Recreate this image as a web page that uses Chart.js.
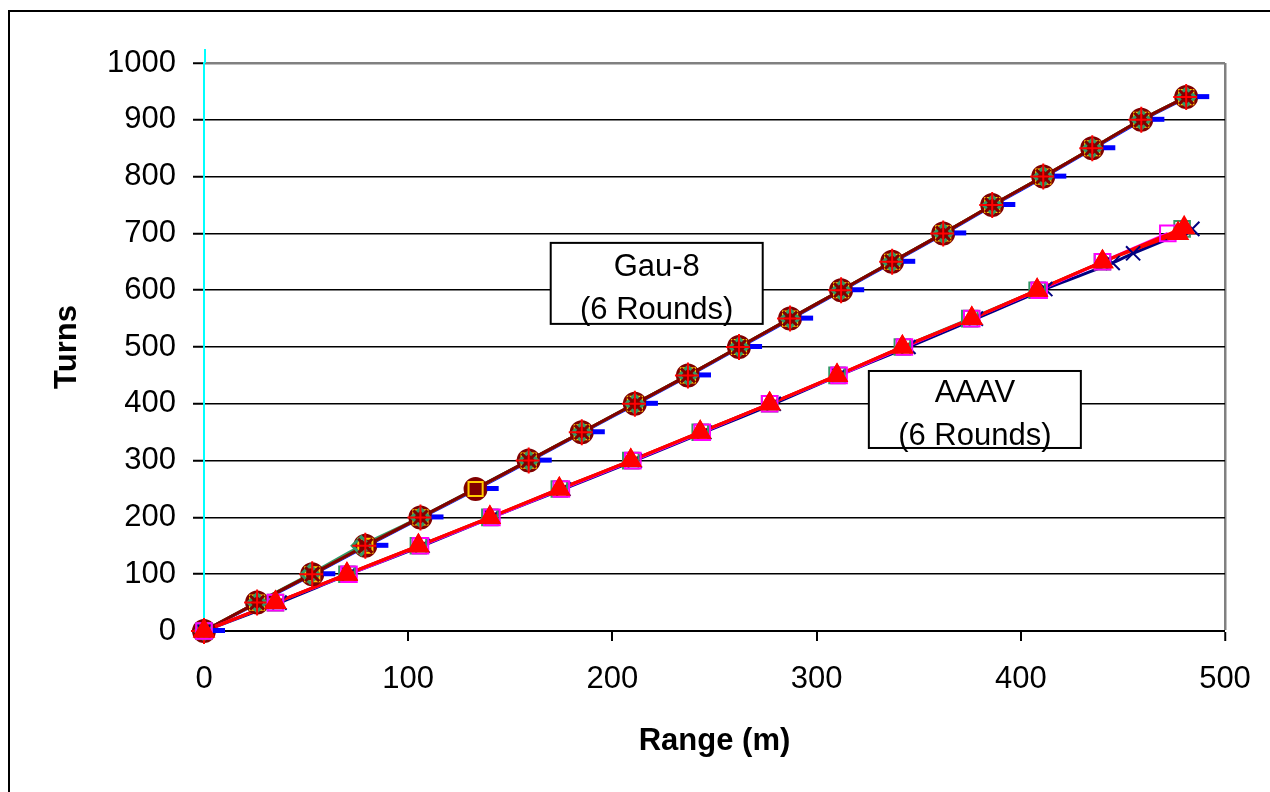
<!DOCTYPE html>
<html>
<head>
<meta charset="utf-8">
<script src="https://cdn.jsdelivr.net/npm/chart.js@4.4.0/dist/chart.umd.min.js"></script>
<style>
  body { margin: 0; background: #fff; }
  #frame { position: absolute; left: 8px; top: 10px; width: 1300px; height: 800px;
           border-left: 2px solid #000; border-top: 2px solid #000; }
  #chart { position: absolute; left: 0; top: 0; }
</style>
</head>
<body>
<div id="frame"></div>
<canvas id="chart" width="1270" height="792"></canvas>
<script>
// Gau-8 rounds
const gauX = [0, 26, 53, 79, 106, 133, 159, 185, 211, 237, 262, 287, 312, 337, 362, 386, 411, 435, 459, 481];
const gauY = [0, 50, 100, 150, 200, 250, 300, 350, 400, 450, 500, 550, 600, 650, 700, 750, 800, 850, 900, 940];
const gauSkipX = [0, 26, 53, 79, 106, 159, 185, 211, 237, 262, 287, 312, 337, 362, 386, 411, 435, 459, 481];
const gauGreenX = [0, 26, 52, 77, 106, 159, 185, 211, 237, 262, 287, 312, 337, 362, 386, 411, 435, 459, 481];
const gauSkipY = [0, 50, 100, 150, 200, 300, 350, 400, 450, 500, 550, 600, 650, 700, 750, 800, 850, 900, 940];
const gauDashX = [0, 27, 54, 80, 107, 134, 160, 186, 212, 238, 263, 288, 313, 338, 363, 387, 412, 436, 460, 482];

// AAAV rounds
const aaavX = [0, 35, 70, 105, 140, 174, 209, 243, 277, 310, 342, 376, 408, 440, 477];
const aaavY = [0, 50, 100, 150, 200, 250, 300, 350, 400, 450, 500, 550, 600, 650, 700];
const aaavTriBX = [0, 35, 70, 105, 140, 174, 209, 243, 277, 310, 342, 376, 408, 440, 480];
const aaavTriBY = [0, 50, 100, 150, 200, 250, 300, 350, 400, 450, 500, 550, 600, 650, 710];
const aaavMagX = [0, 35, 71, 106, 141, 175, 210, 244, 277, 311, 343, 376, 409, 440, 472];
const aaavGreenX = [0, 35, 70, 105, 140, 174, 209, 243, 277, 310, 342, 375, 408, 440, 479];
const aaavGreenY = [0, 50, 100, 150, 200, 250, 300, 350, 400, 450, 500, 550, 600, 650, 708];
const aaavNavyX = [0, 37, 71, 107, 141, 176, 211, 245, 279, 311, 345, 378, 412, 445, 455, 484];
const aaavNavyY = [0, 50, 100, 150, 200, 250, 300, 350, 400, 450, 500, 550, 602, 648, 665, 708];

const xTicks = [0, 100, 200, 300, 400, 500];
const yTicks = [0, 100, 200, 300, 400, 500, 600, 700, 800, 900, 1000];
const gauLabel = ["Gau-8", "(6 Rounds)"];
const aaavLabel = ["AAAV", "(6 Rounds)"];

const FONT = "'Liberation Sans', Arial, sans-serif";

function pts(xs, ys) {
  return xs.map((x, i) => ({ x: x, y: ys[i] }));
}

// excel style dash marker, drawn to the right of the point
const dashMarker = document.createElement("canvas");
dashMarker.width = 44;
dashMarker.height = 8;
(function () {
  const c = dashMarker.getContext("2d");
  c.fillStyle = "#0000FF";
  c.fillRect(31, 1, 12, 5);
})();

// every series gets a line dataset (drawn first, like excel) and a marker dataset
const datasets = [];
function series(data, line, mark) {
  datasets.push({
    data: data, showLine: true, tension: 0.2, clip: false, pointRadius: 0,
    borderColor: line.color, borderWidth: line.width, order: line.order,
  });
  datasets.push({
    data: data, showLine: false, clip: false,
    pointStyle: mark.style, pointRadius: mark.radius,
    pointBorderColor: mark.color, pointBorderWidth: mark.width || 2,
    pointBackgroundColor: mark.fill || "rgba(0,0,0,0)",
    order: mark.order,
  });
}

// AAAV
series(pts(aaavX, aaavY), { color: "#FF0000", width: 3, order: 20 },
  { style: "triangle", radius: 11, color: "#FF0000", fill: "#FF0000", order: 1 });
series(pts(aaavTriBX, aaavTriBY), { color: "#FF0000", width: 3, order: 21 },
  { style: "triangle", radius: 11, color: "#FF0000", fill: "#FF0000", order: 2 });
series(pts(aaavMagX, aaavY), { color: "#FF00FF", width: 3, order: 22 },
  { style: "rect", radius: 11, color: "#FF00FF", order: 3 });
series(pts(aaavGreenX, aaavGreenY), { color: "#339966", width: 2.5, order: 23 },
  { style: "rect", radius: 11, color: "#339966", order: 4 });
series(pts(aaavNavyX, aaavNavyY), { color: "#000080", width: 3, order: 24 },
  { style: "crossRot", radius: 10, color: "#000080", width: 2, order: 5 });

// Gau-8
series(pts(gauDashX, gauY), { color: "#0000FF", width: 2.5, order: 30 },
  { style: dashMarker, radius: 6, color: "#0000FF", order: 6 });
series(pts(gauSkipX, gauSkipY), { color: "#339966", width: 3, order: 29 },
  { style: "cross", radius: 13, color: "#FF0000", width: 2, order: 7 });
series(pts(gauGreenX, gauSkipY), { color: "#339966", width: 3, order: 28 },
  { style: "rectRot", radius: 9, color: "#339966", width: 3, order: 9 });
series(pts(gauX, gauY), { color: "#FFCC00", width: 2.5, order: 27 },
  { style: "rect", radius: 10, color: "#FFCC00", width: 2, order: 10 });
series(pts(gauX, gauY), { color: "#993300", width: 3, order: 26 },
  { style: "circle", radius: 11, color: "#800000", fill: "#800000", order: 11 });
series(pts(gauSkipX, gauSkipY), { color: "#800000", width: 3, order: 25 },
  { style: "crossRot", radius: 10, color: "#800000", width: 3, order: 8 });

const textBoxes = {
  id: "textBoxes",
  afterDatasetsDraw(chart) {
    const ctx = chart.ctx;
    const xs = chart.scales.x, ys = chart.scales.y;
    const boxes = [
      { lines: gauLabel, cx: xs.getPixelForValue(221.7), cy: ys.getPixelForValue(612), w: 212, h: 81 },
      { lines: aaavLabel, cx: xs.getPixelForValue(377.5), cy: ys.getPixelForValue(390), w: 212, h: 77 },
    ];
    ctx.save();
    // the value axis runs a little past the plot top
    ctx.strokeStyle = "#00FFFF";
    ctx.lineWidth = 2;
    ctx.beginPath();
    ctx.moveTo(chart.chartArea.left + 1, chart.chartArea.top - 14);
    ctx.lineTo(chart.chartArea.left + 1, chart.chartArea.top);
    ctx.stroke();
    boxes.forEach((b) => {
      ctx.fillStyle = "#fff";
      ctx.fillRect(b.cx - b.w / 2, b.cy - b.h / 2, b.w, b.h);
      ctx.strokeStyle = "#000";
      ctx.lineWidth = 2;
      ctx.strokeRect(b.cx - b.w / 2, b.cy - b.h / 2, b.w, b.h);
      ctx.fillStyle = "#000";
      ctx.font = "31px " + FONT;
      ctx.textAlign = "center";
      ctx.textBaseline = "middle";
      ctx.fillText(b.lines[0], b.cx, b.cy - 16);
      ctx.fillText(b.lines[1], b.cx, b.cy + 27);
    });
    ctx.restore();
  },
};

new Chart(document.getElementById("chart"), {
  type: "scatter",
  data: { datasets: datasets },
  plugins: [textBoxes],
  options: {
    responsive: false,
    animation: false,
    devicePixelRatio: 1,
    layout: { padding: { left: 0, top: 63, right: 45, bottom: 0 } },
    plugins: { legend: { display: false }, tooltip: { enabled: false } },
    scales: {
      x: {
        type: "linear",
        min: 0,
        max: 500,
        afterFit: (s) => { s.height = 161; s.paddingLeft = 0; s.paddingRight = 0; },
        afterBuildTicks: (s) => { s.ticks = xTicks.map((v) => ({ value: v })); },
        ticks: { color: "#000", font: { family: FONT, size: 31 }, padding: 20, maxRotation: 0,
          callback: (v) => String(v) },
        grid: {
          color: (c) => (c.tick && c.tick.value === 500 ? "#808080" : "rgba(0,0,0,0)"),
          lineWidth: (c) => (c.tick && c.tick.value === 500 ? 2.5 : 0),
          tickColor: "#000",
          tickLength: 10,
          tickWidth: 2,
        },
        border: { color: "#000", width: 2 },
        title: {
          display: true,
          text: "Range (m)",
          color: "#000",
          font: { family: FONT, size: 31, weight: "bold" },
          padding: { top: 0, bottom: 32 },
        },
      },
      y: {
        type: "linear",
        min: 0,
        max: 1000,
        afterFit: (s) => { s.width = 204; },
        afterBuildTicks: (s) => { s.ticks = yTicks.map((v) => ({ value: v })); },
        ticks: { color: "#000", font: { family: FONT, size: 31 }, padding: 17,
          callback: (v) => String(v) },
        grid: {
          color: (c) => (c.tick && c.tick.value === 1000 ? "#808080" : "#000"),
          lineWidth: (c) => (c.tick && c.tick.value === 1000 ? 2.5 : (c.tick && c.tick.value === 0 ? 0 : 1.5)),
          tickColor: "#000",
          tickLength: 11,
          tickWidth: 2,
        },
        border: { color: "#00FFFF", width: 2 },
        title: {
          display: true,
          text: "Turns",
          color: "#000",
          font: { family: FONT, size: 31, weight: "bold" },
          padding: { top: 49, bottom: 0 },
        },
      },
    },
  },
});
</script>
</body>
</html>
